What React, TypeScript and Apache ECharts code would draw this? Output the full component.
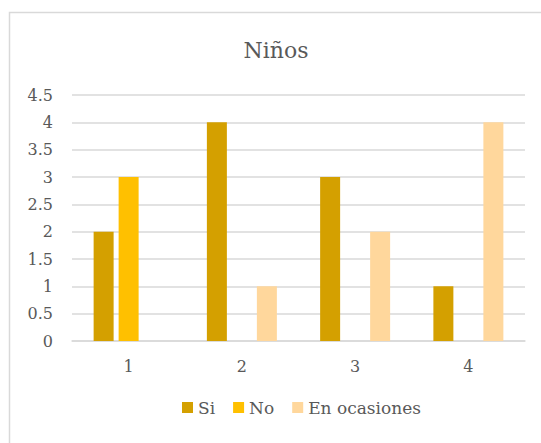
import React, { useEffect, useRef } from "react";
import * as echarts from "echarts";

const categories = ["1", "2", "3", "4"];
const seriesNames = ["Si", "No", "En ocasiones"];
const siValues = [2, 4, 3, 1];
const noValues = [3, 0, 0, 0];
const ocasionesValues = [0, 1, 2, 4];
const colors = ["#D4A000", "#FFC000", "#FFD79C"];

export default function App() {
  const ref = useRef<HTMLDivElement>(null);
  useEffect(() => {
    if (!ref.current) return;
    const chart = echarts.init(ref.current, null, { renderer: "svg" });
    const font = "DejaVu Serif";
    const mk = (name: string, data: number[], color: string) => ({
      name,
      type: "bar",
      data,
      barWidth: 20,
      barGap: "25%",
      itemStyle: { color },
    });
    chart.setOption({
      animation: false,
      backgroundColor: "#fff",
      textStyle: { fontFamily: font },
      graphic: [
        {
          type: "rect",
          shape: { x: 9.5, y: 12.5, width: 600, height: 600 },
          style: { fill: "none", stroke: "#D9D9D9", lineWidth: 1.5 },
          silent: true,
        },
      ],
      title: {
        text: "Niños",
        left: 271,
        textAlign: "center",
        top: 34,
        textStyle: { fontFamily: font, fontSize: 22, fontWeight: "normal", color: "#595959" },
      },
      legend: {
        data: seriesNames,
        left: 177,
        top: 394,
        itemWidth: 11,
        itemHeight: 11,
        itemGap: 18,
        icon: "rect",
        textStyle: { fontFamily: font, fontSize: 17, color: "#595959" },
      },
      grid: { left: 72, right: 16, top: 95, bottom: 102 },
      xAxis: {
        type: "category",
        data: categories,
        axisLine: { lineStyle: { color: "#D9D9D9", width: 1.5 } },
        axisTick: { show: false },
        axisLabel: { fontFamily: font, fontSize: 16, color: "#595959", margin: 17 },
      },
      yAxis: {
        type: "value",
        min: 0,
        max: 4.5,
        interval: 0.5,
        axisLine: { show: false },
        axisTick: { show: false },
        splitLine: { lineStyle: { color: "#D9D9D9", width: 1.5 } },
        axisLabel: { fontFamily: font, fontSize: 16, color: "#595959", margin: 19 },
      },
      series: [
        mk(seriesNames[0], siValues, colors[0]),
        mk(seriesNames[1], noValues, colors[1]),
        mk(seriesNames[2], ocasionesValues, colors[2]),
      ],
    });
    return () => chart.dispose();
  }, []);
  return (
    <div
      ref={ref}
      style={{ position: "fixed", left: 0, top: 0, width: 541, height: 443 }}
    />
  );
}
